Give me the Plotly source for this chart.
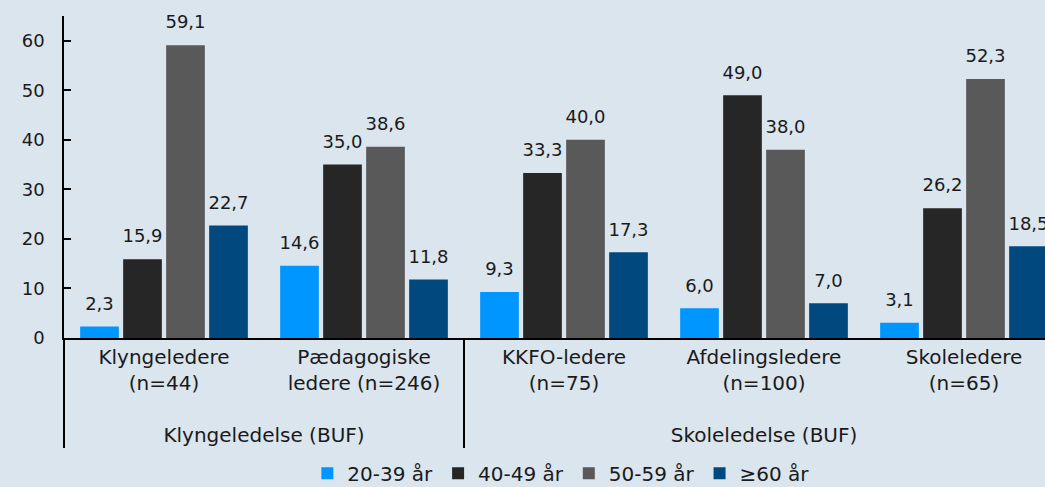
import plotly.graph_objects as go

groups = ["<br>Klyngeledelse (BUF)", "<br>Klyngeledelse (BUF)",
          "<br>Skoleledelse (BUF)", "<br>Skoleledelse (BUF)", "<br>Skoleledelse (BUF)"]
categories = ["Klyngeledere<br>(n=44)", "Pædagogiske<br>ledere (n=246)",
              "KKFO-ledere<br>(n=75)", "Afdelingsledere<br>(n=100)",
              "Skoleledere<br>(n=65)"]
series_names = ["20-39 år", "40-49 år", "50-59 år", "≥60 år"]
v_20_39 = [2.3, 14.6, 9.3, 6.0, 3.1]
v_40_49 = [15.9, 35.0, 33.3, 49.0, 26.2]
v_50_59 = [59.1, 38.6, 40.0, 38.0, 52.3]
v_60 = [22.7, 11.8, 17.3, 7.0, 18.5]
series_values = [v_20_39, v_40_49, v_50_59, v_60]
colors = ["#0096ff", "#262626", "#595959", "#00487e"]

FONT = "DejaVu Sans"
TXT = "#1a1a1a"

fig = go.Figure()
for i, (name, vals, col) in enumerate(zip(series_names, series_values, colors)):
    fig.add_trace(go.Bar(
        x=[groups, categories], y=vals, name=name,
        marker=dict(color=col, line=dict(width=0)),
        offsetgroup=str(i),
    ))
for i, (name, vals) in enumerate(zip(series_names, series_values)):
    fig.add_trace(go.Scatter(
        x=[groups, categories], y=vals, mode="markers+text",
        marker=dict(size=18, opacity=0),
        text=[f"{v:.1f}".replace(".", ",") for v in vals],
        textposition="top center",
        textfont=dict(family=FONT, size=18, color=TXT),
        cliponaxis=False, showlegend=False, hoverinfo="skip",
        offsetgroup=str(i),
    ))

fig.update_layout(
    width=1045, height=487,
    margin=dict(l=64, r=0, t=16, b=149, autoexpand=False),
    paper_bgcolor="#dbe5ee", plot_bgcolor="#dbe5ee",
    barmode="group", bargap=0.14, bargroupgap=0.1,
    scattermode="group", scattergap=0.14,
    font=dict(family=FONT, size=18, color=TXT),
    showlegend=True,
    legend=dict(orientation="h", x=0.507, xanchor="center",
                y=-0.42, yanchor="middle",
                font=dict(family=FONT, size=20, color=TXT),
                bgcolor="rgba(0,0,0,0)", traceorder="normal"),
)
fig.update_xaxes(
    type="multicategory", range=[-0.5, 4.405], automargin=False,
    showline=True, linecolor="black", linewidth=2,
    showdividers=True, dividercolor="black", dividerwidth=1.5,
    ticks="", showgrid=False, zeroline=False,
    tickfont=dict(family=FONT, size=20, color=TXT),
)
fig.update_yaxes(
    range=[0, 65], tickvals=[0, 10, 20, 30, 40, 50, 60], automargin=False,
    showline=True, linecolor="black", linewidth=1.5,
    ticks="inside", ticklen=7, tickcolor="black", tickwidth=1.5,
    showgrid=False, zeroline=False, ticklabelstandoff=14,
    tickfont=dict(family=FONT, size=18, color=TXT),
)

fig.write_html("out.html", config={"displayModeBar": False},
               post_script="document.body.style.margin='0';document.body.style.overflow='hidden';")
